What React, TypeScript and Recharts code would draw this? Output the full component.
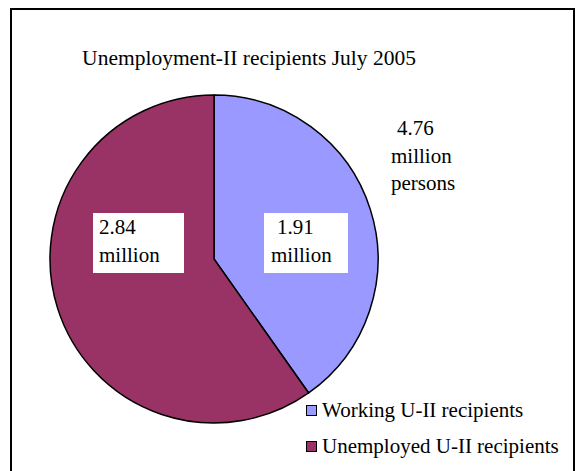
import React from "react";
import { PieChart, Pie, Cell, Legend, Customized } from "recharts";

// Unemployment-II recipients, July 2005 (millions)
const categories = ["Working U-II recipients", "Unemployed U-II recipients"];
const values = [1.91, 2.84];
const colors = ["#9999FF", "#993366"];
const totalLabel = ["4.76", "million", "persons"];
const title = "Unemployment-II recipients July 2005";

const data = categories.map((name, i) => ({ name, value: values[i] }));

const FONT = "Liberation Serif";

// white label box placement per slice
const labelBoxes = [
  { x: 264, y: 213, w: 84, h: 60, dx1: 13, dx2: 7 },
  { x: 93, y: 213, w: 91, h: 60, dx1: 6, dx2: 6 },
];

const renderSliceLabel = (props: any) => {
  const i = props.index;
  const b = labelBoxes[i];
  return (
    <g key={`lbl-${i}`}>
      <rect x={b.x} y={b.y} width={b.w} height={b.h} fill="#fff" stroke="none" />
      <text x={b.x + b.dx1} y={b.y + 21} fontSize={21} fontFamily={FONT} fill="#000" stroke="none">
        {Number(props.value).toFixed(2)}
      </text>
      <text x={b.x + b.dx2} y={b.y + 49} fontSize={21} fontFamily={FONT} fill="#000" stroke="none">
        million
      </text>
    </g>
  );
};

const Annotations = () => (
  <g fill="#000">
    <rect x={11} y={9} width={563} height={470} fill="none" stroke="#000" strokeWidth={2} />
    <text x={249} y={65} fontSize={21.5} textAnchor="middle" fontFamily={FONT}>
      {title}
    </text>
    {totalLabel.map((t, i) => (
      <text key={t} x={i === 0 ? 397 : 391} y={135 + i * 27.5} fontSize={21} fontFamily={FONT}>
        {t}
      </text>
    ))}
  </g>
);

const LegendContent = () => (
  <div style={{ fontFamily: FONT, fontSize: 21, color: "#000", lineHeight: "24px" }}>
    {categories.map((c, i) => (
      <div key={c} style={{ display: "flex", alignItems: "center", height: 36 }}>
        <span
          style={{
            display: "inline-block",
            width: 9,
            height: 9,
            background: colors[i],
            border: "1.5px solid #000",
            marginRight: 5,
          }}
        />
        <span>{c}</span>
      </div>
    ))}
  </div>
);

export default function App() {
  return (
    <div
      style={{
        position: "absolute",
        left: 0,
        top: 0,
        width: 576,
        height: 471,
        overflow: "hidden",
        background: "#fff",
      }}
    >
      <PieChart width={576} height={471} margin={{ top: 0, right: 0, bottom: 0, left: 0 }}>
        <Customized component={Annotations} />
        <Pie
          data={data}
          dataKey="value"
          nameKey="name"
          cx={214}
          cy={259}
          outerRadius={164}
          startAngle={90}
          endAngle={-270}
          stroke="#000"
          strokeWidth={1.5}
          isAnimationActive={false}
          label={renderSliceLabel}
          labelLine={false}
        >
          {data.map((d, i) => (
            <Cell key={d.name} fill={colors[i]} />
          ))}
        </Pie>
        <Legend
          content={<LegendContent />}
          layout="vertical"
          wrapperStyle={{ position: "absolute", left: 306, top: 392, width: 262, bottom: "auto" }}
        />
      </PieChart>
    </div>
  );
}
